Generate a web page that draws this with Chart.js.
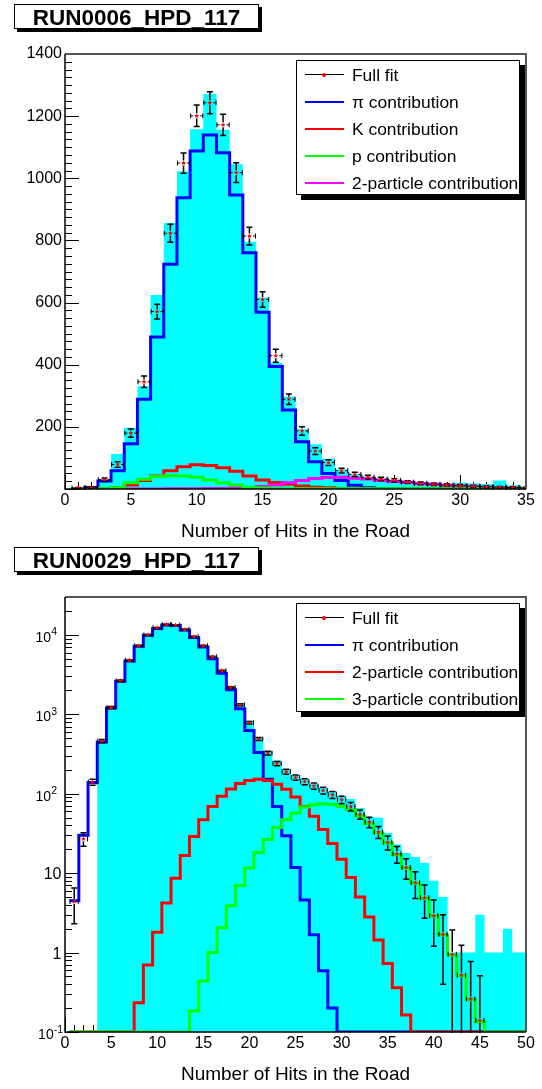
<!DOCTYPE html>
<html>
<head>
<meta charset="utf-8">
<script src="https://cdn.jsdelivr.net/npm/chart.js@4.4.1/dist/chart.umd.min.js"></script>
<style>
html,body{margin:0;padding:0;background:#fff;width:542px;height:1089px;overflow:hidden;font-family:'Liberation Sans',Arial,Helvetica,sans-serif;color:#000;}
.pane{position:absolute;left:0;width:542px;height:543px;}
.pane canvas{position:absolute;left:0;top:0;}
.tbox{position:absolute;left:14px;top:4px;width:245px;height:25px;box-sizing:border-box;border:1px solid #000;box-shadow:3px 3px 0 #000;background:#fff;}
.tbox span{position:absolute;left:0;right:0;top:2px;text-align:center;font-weight:bold;font-size:22.5px;line-height:22.5px;white-space:nowrap;}
.xt{position:absolute;left:65px;width:461px;top:521px;text-align:center;font-size:19px;line-height:19px;white-space:nowrap;}
.leg{position:absolute;left:296px;top:60px;width:224px;box-sizing:border-box;border:1px solid #000;box-shadow:5px 5px 0 #000;background:#fff;}
.li{position:absolute;left:0;height:27px;width:100%;}
.li .ln{position:absolute;left:8px;width:39px;top:12.5px;height:2px;}
.li .ln.fit{top:13px;height:1px;background:#000;}
.li .mk{position:absolute;left:25px;top:11.5px;width:4px;height:4px;background:#f00;border-radius:2px;}
.li .tx{position:absolute;left:55px;top:4.5px;font-size:17.4px;line-height:18px;white-space:nowrap;}
</style>
</head>
<body>

<div class="pane" style="top:0">
  <canvas id="c1" width="542" height="543"></canvas>
  <div class="tbox"><span>RUN0006_HPD_117</span></div>
  <div class="leg" style="height:135px">
    <div class="li" style="top:0"><div class="ln fit"></div><div class="mk"></div><div class="tx">Full fit</div></div>
    <div class="li" style="top:27px"><div class="ln" style="background:#0000ff"></div><div class="tx">π contribution</div></div>
    <div class="li" style="top:54px"><div class="ln" style="background:#ff0000"></div><div class="tx">K contribution</div></div>
    <div class="li" style="top:81px"><div class="ln" style="background:#00ff00"></div><div class="tx">p contribution</div></div>
    <div class="li" style="top:108px"><div class="ln" style="background:#ff00ff"></div><div class="tx">2-particle contribution</div></div>
  </div>
  <div class="xt">Number of Hits in the Road</div>
</div>

<div class="pane" style="top:543px">
  <canvas id="c2" width="542" height="543"></canvas>
  <div class="tbox"><span>RUN0029_HPD_117</span></div>
  <div class="leg" style="height:109px">
    <div class="li" style="top:0"><div class="ln fit"></div><div class="mk"></div><div class="tx">Full fit</div></div>
    <div class="li" style="top:27px"><div class="ln" style="background:#0000ff"></div><div class="tx">π contribution</div></div>
    <div class="li" style="top:54px"><div class="ln" style="background:#ff0000"></div><div class="tx">2-particle contribution</div></div>
    <div class="li" style="top:81px"><div class="ln" style="background:#00ff00"></div><div class="tx">3-particle contribution</div></div>
  </div>
  <div class="xt">Number of Hits in the Road</div>
</div>

<script>
// ---------------- DATA: RUN0006 (linear) ----------------
const topBins = [1,2,3,4,5,6,7,8,9,10,11,12,13,14,15,16,17,18,19,20,21,22,23,24,25,26,27,28,29,30,31,32,33,34,35];
const topDataHist = [2,4,25,113,197,331,624,856,1023,1158,1271,1156,1045,796,616,406,297,192,144,97,63,47,39,34,29,26,21,18,16,20,18,16,27,12,7];
const topFullFit = [3,5,30,79,180,345,571,823,1049,1201,1243,1172,1018,814,610,429,289,187,122,85,59,47,38,32,28,22,18,15,13,11,9,7,6,5,4];
const topFitErr = [1.7,2.2,5.5,8.9,13.4,18.6,23.9,28.7,32.4,34.7,35.3,34.2,31.9,28.5,24.7,20.7,17,13.7,11,9.2,7.7,6.9,6.2,5.7,5.3,4.7,4.2,3.9,3.6,3.3,3,2.6,2.4,2.2,2];
const topPi = [0,5,26,59,146,289,489,723,937,1088,1139,1082,946,760,569,394,254,152,88,50,27,12,4,2,1,0,0,0,0,0,0,0,0,0,0];
const topK = [0,0,1,4,13,27,42,59,72,78,76,68,57,42,29,21,15,10,6,4,2,1,1,0,0,0,0,0,0,0,0,0,0,0,0];
const topP = [1,1,1,4,20,31,40,43,42,38,29,20,13,6,3,2,1,1,1,1,1,1,1,1,1,1,1,1,1,1,1,1,1,1,1];
const top2Part = [0,0,0,0,0,0,0,1,1,1,2,2,3,5,8,13,20,27,34,37,38,35,32,27,24,22,18,15,12,10,7.5,5.4,4.3,3,2];
const topXTicks = [0,5,10,15,20,25,30,35];
const topYTicks = [200,400,600,800,1000,1200,1400];

// ---------------- DATA: RUN0029 (log) ----------------
const botBins = [1,2,3,4,5,6,7,8,9,10,11,12,13,14,15,16,17,18,19,20,21,22,23,24,25,26,27,28,29,30,31,32,33,34,35,36,37,38,39,40,41,42,43,44,45,46,47,48,49,50];
const botDataHist = [0,0,0,460,1230,2650,4800,7400,10100,12400,13600,13400,11800,9600,7400,5400,3600,2250,1390,830,505,345,262,205,172,152,133,120,108,95,86,66,51,50,32,23,18,16,13.5,8,5,1,1,1,3,1,1,2,1,1];
const botFullFit = [4.4,27,140,460,1220,2650,4800,7300,10000,12300,13500,13300,11700,9500,7300,5300,3540,2180,1320,785,489,325,240,190,160,142,125,110,97,84,69,55,44,33,24.5,17.5,11.8,7.6,4.9,2.9,1.7,0.95,0.52,0.26,0.14,0,0,0,0,0];
const botFitErr = [2.1,5.2,11.8,21.4,34.9,51.5,69.3,85.4,100,110.9,116.2,115.3,108.2,97.5,85.4,72.8,59.5,46.7,36.3,28,22.1,18,15.5,13.8,12.6,11.9,11.2,10.5,9.8,9.2,8.3,7.4,6.6,5.7,4.9,4.2,3.4,2.8,2.2,1.7,1.3,0.97,0.72,0.51,0.37,0,0,0,0,0];
const botPi = [4.5,30,139,448,1200,2600,4700,7180,9870,12000,13300,13100,11500,9300,7050,5020,3300,2040,1175,625,330,152,69,29.5,11.8,4.6,1.68,0.59,0.2,0,0,0,0,0,0,0,0,0,0,0,0,0,0,0,0,0,0,0,0,0];
const bot2Part = [0,0,0,0,0,0,0,0.234,0.70,1.8,4.2,8.65,16.7,29,47,69,93,115,135,147,152,147,132,114,91,69,52,35.5,23.6,15,8.8,5,2.8,1.44,0.73,0.36,0.164,0,0,0,0,0,0,0,0,0,0,0,0,0];
const bot3Part = [0,0,0,0,0,0,0,0,0,0,0,0,0,0.184,0.44,1.0,2.06,3.9,7.0,11.6,18.2,26.5,37.6,47,57,68,72.5,74.6,73,69,63,52.5,42,32,24,17,11.6,7.5,4.84,2.9,1.67,0.93,0.51,0.258,0.135,0,0,0,0,0];
const botXTicks = [0,5,10,15,20,25,30,35,40,45,50];
const botYTickLabels = [
  {v: 0.1, base: '10', exp: '-1'},
  {v: 1, base: '1', exp: ''},
  {v: 10, base: '10', exp: ''},
  {v: 100, base: '10', exp: '2'},
  {v: 1000, base: '10', exp: '3'},
  {v: 10000, base: '10', exp: '4'}
];

// ---------------- helpers ----------------
const FAM = "'Liberation Sans', Arial, Helvetica, sans-serif";
const CYAN = '#00ffff', BLUE = '#0000ff', RED = '#ff0000', GREEN = '#00ff00', MAGENTA = '#ff00ff';

function stepPoints(bins, vals, floor) {
  const pts = bins.map((b, i) => ({x: b - 0.5, y: Math.max(vals[i], floor)}));
  const n = bins.length - 1;
  pts.push({x: bins[n] + 0.5, y: Math.max(vals[n], floor)});
  return pts;
}
function lineDs(bins, vals, floor, color, order) {
  return {data: stepPoints(bins, vals, floor), stepped: 'before', borderColor: color, borderWidth: 3,
          pointRadius: 0, fill: false, order: order, borderJoinStyle: 'miter', borderCapStyle: 'butt'};
}
function fillDs(bins, vals, floor) {
  return {data: stepPoints(bins, vals, floor), stepped: 'before', borderColor: 'rgba(0,0,0,0)', borderWidth: 0,
          backgroundColor: CYAN, pointRadius: 0, fill: 'start', order: 50};
}
function drawStar(ctx, cx, cy, r) {
  ctx.beginPath();
  for (let k = 0; k < 10; k++) {
    const ang = -Math.PI / 2 + k * Math.PI / 5;
    const rr = (k % 2 === 0) ? r : r * 0.45;
    ctx.lineTo(cx + rr * Math.cos(ang), cy + rr * Math.sin(ang));
  }
  ctx.closePath();
  ctx.fill();
}

const rootStyle = {
  id: 'rootStyle',
  beforeDatasetsDraw(chart, args, o) {
    const {ctx, chartArea: a, scales: {x, y}} = chart;
    ctx.save();
    ctx.strokeStyle = '#000';
    ctx.lineWidth = 1;
    ctx.beginPath();
    for (let k = 0; k * o.xMinor <= x.max + 1e-9; k++) {
      const px = Math.round(x.getPixelForValue(k * o.xMinor)) + 0.5;
      const len = (k % o.xPerMajor === 0) ? 14 : 7;
      ctx.moveTo(px, a.bottom); ctx.lineTo(px, a.bottom - len);
    }
    for (const t of o.yTicks) {
      const py = Math.round(y.getPixelForValue(t.v)) + 0.5;
      ctx.moveTo(a.left, py); ctx.lineTo(a.left + (t.major ? 14 : 7), py);
    }
    ctx.stroke();
    ctx.restore();
  },
  afterDatasetsDraw(chart, args, o) {
    const {ctx, chartArea: a, scales: {x, y}} = chart;
    // fit points with error bars
    ctx.save();
    ctx.beginPath();
    ctx.rect(a.left, a.top, a.right - a.left, a.bottom - a.top + 1);
    ctx.clip();
    const ymin = y.min;
    o.bins.forEach((b, i) => {
      const v = o.fit[i];
      if (!(v > 0)) return;
      const e = o.err[i];
      const px = x.getPixelForValue(b), py = y.getPixelForValue(v);
      const xl = x.getPixelForValue(b - 0.5), xr = x.getPixelForValue(b + 0.5);
      const yt = y.getPixelForValue(v + e);
      const lowOk = (v - e) > ymin;
      const yb = lowOk ? y.getPixelForValue(v - e) : a.bottom + 2;
      const g = 2.5;
      ctx.strokeStyle = '#000';
      ctx.lineWidth = 1.5;
      ctx.beginPath();
      if (py - yt > g) { ctx.moveTo(px, yt); ctx.lineTo(px, py - g); }
      if (yb - py > g) { ctx.moveTo(px, py + g); ctx.lineTo(px, yb); }
      ctx.moveTo(px - 3, yt); ctx.lineTo(px + 3, yt);
      if (lowOk) { ctx.moveTo(px - 3, yb); ctx.lineTo(px + 3, yb); }
      ctx.stroke();
      ctx.lineWidth = 1;
      ctx.beginPath();
      ctx.moveTo(xl, py); ctx.lineTo(px - g - 1, py);
      ctx.moveTo(px + g + 1, py); ctx.lineTo(xr, py);
      ctx.moveTo(xl + 0.5, py - 2.5); ctx.lineTo(xl + 0.5, py + 2.5);
      ctx.moveTo(xr - 0.5, py - 2.5); ctx.lineTo(xr - 0.5, py + 2.5);
      ctx.stroke();
      ctx.fillStyle = '#ff0000';
      drawStar(ctx, px, py, 2.6);
    });
    ctx.restore();
    // frame
    ctx.save();
    ctx.strokeStyle = '#555';
    ctx.lineWidth = 2;
    ctx.beginPath();
    ctx.moveTo(a.left, a.top); ctx.lineTo(a.right, a.top); ctx.lineTo(a.right, a.bottom);
    ctx.stroke();
    ctx.strokeStyle = '#000';
    ctx.lineWidth = 1.5;
    ctx.beginPath();
    ctx.moveTo(a.left, a.top); ctx.lineTo(a.left, a.bottom); ctx.lineTo(a.right, a.bottom);
    ctx.stroke();
    ctx.restore();
    // log labels with superscripts
    if (o.logLabels) {
      ctx.save();
      ctx.fillStyle = '#000';
      ctx.textBaseline = 'alphabetic';
      for (const L of o.logLabels) {
        const py = y.getPixelForValue(L.v);
        if (L.exp) {
          ctx.font = '14px ' + FAM;
          const wb = ctx.measureText(L.base).width;
          ctx.font = '10.5px ' + FAM;
          const we = ctx.measureText(L.exp).width;
          const right = L.exp.length > 1 ? 63 : 57;
          const xb = right - we - wb;
          ctx.font = '14px ' + FAM;
          ctx.textAlign = 'left';
          ctx.fillText(L.base, xb, py + 7);
          ctx.font = '10.5px ' + FAM;
          ctx.fillText(L.exp, xb + wb, py + 0.5);
        } else {
          ctx.font = '16px ' + FAM;
          ctx.textAlign = 'right';
          ctx.fillText(L.base, 61.5, py + 6);
        }
      }
      ctx.restore();
    }
  }
};

function axisX(maxV, ticksArr) {
  return {
    type: 'linear', min: 0, max: maxV,
    afterFit(s) { s.height = 54; },
    afterBuildTicks(s) { s.ticks = ticksArr.map(v => ({value: v})); },
    grid: {display: false, drawTicks: false}, border: {display: false},
    ticks: {autoSkip: false, maxRotation: 0, padding: 2, color: '#000',
            font: {family: FAM, size: 16}, callback: v => String(v)}
  };
}

// ---------------- top chart ----------------
const topYMinor = [];
for (let v = 0; v <= 1400; v += 25) topYMinor.push({v: v, major: v % 200 === 0});

new Chart(document.getElementById('c1'), {
  type: 'line',
  data: {datasets: [
    fillDs(topBins, topDataHist, 0),
    lineDs(topBins, topPi, 0, BLUE, 5),
    lineDs(topBins, topK, 0, RED, 4),
    lineDs(topBins, top2Part, 0, MAGENTA, 3),
    lineDs(topBins, topP, 0, GREEN, 2)
  ]},
  options: {
    responsive: false, animation: false, devicePixelRatio: 1, events: [],
    layout: {padding: {left: 0, right: 16, top: 54, bottom: 0}},
    plugins: {legend: {display: false}, tooltip: {enabled: false},
      rootStyle: {xMinor: 1, xPerMajor: 5, yTicks: topYMinor, bins: topBins, fit: topFullFit, err: topFitErr}},
    scales: {
      x: axisX(35, topXTicks),
      y: {type: 'linear', min: 0, max: 1400,
          afterFit(s) { s.width = 65; },
          afterBuildTicks(s) { s.ticks = topYTicks.map(v => ({value: v})); },
          grid: {display: false, drawTicks: false}, border: {display: false},
          ticks: {padding: 3, color: '#000', font: {family: FAM, size: 16}, callback: v => String(v)}}
    }
  },
  plugins: [rootStyle]
});

// ---------------- bottom chart ----------------
const botYMinor = [];
for (let e = -1; e <= 4; e++) {
  for (let m = 1; m <= 9; m++) {
    const v = m * Math.pow(10, e);
    if (v <= 30000) botYMinor.push({v: v, major: m === 1});
  }
}

new Chart(document.getElementById('c2'), {
  type: 'line',
  data: {datasets: [
    fillDs(botBins, botDataHist, 0.1),
    lineDs(botBins, botPi, 0.1, BLUE, 5),
    lineDs(botBins, bot2Part, 0.1, RED, 4),
    lineDs(botBins, bot3Part, 0.1, GREEN, 3)
  ]},
  options: {
    responsive: false, animation: false, devicePixelRatio: 1, events: [],
    layout: {padding: {left: 0, right: 16, top: 54, bottom: 0}},
    plugins: {legend: {display: false}, tooltip: {enabled: false},
      rootStyle: {xMinor: 1, xPerMajor: 5, yTicks: botYMinor, bins: botBins, fit: botFullFit, err: botFitErr, logLabels: botYTickLabels}},
    scales: {
      x: axisX(50, botXTicks),
      y: {type: 'logarithmic', min: 0.1, max: 30000,
          afterFit(s) { s.width = 65; },
          grid: {display: false, drawTicks: false}, border: {display: false},
          ticks: {display: false}}
    }
  },
  plugins: [rootStyle]
});
</script>
</body>
</html>
